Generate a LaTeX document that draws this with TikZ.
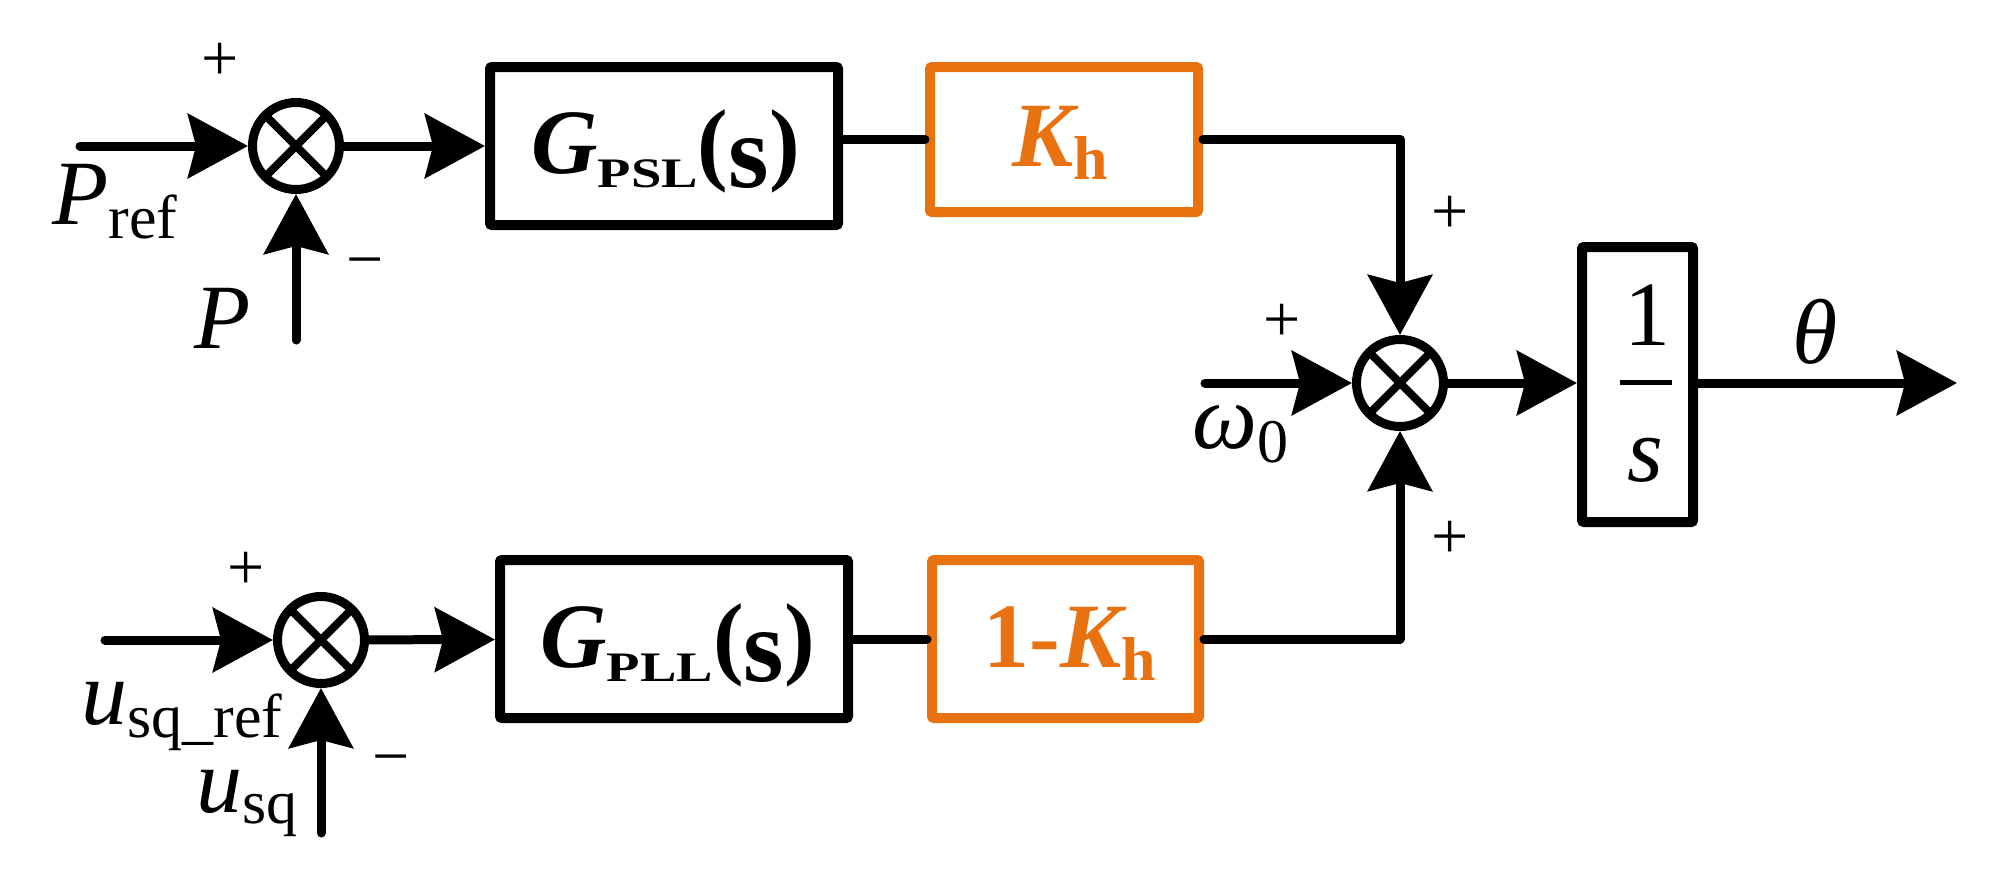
\documentclass[tikz,border=0pt]{standalone}
\usepackage{fontspec}
\usepackage{graphicx}
\setmainfont{Liberation Serif}
\usetikzlibrary{arrows.meta}
\definecolor{kor}{HTML}{E97210}
\newcommand\mainsz{\fontsize{46}{50}\selectfont}
\newcommand\subsz{\fontsize{31}{34}\selectfont}
\newcommand\sgnsz{\fontsize{33}{35}\selectfont}
\newcommand\lsub[2][7pt]{\raisebox{-#1}{\subsz\upshape\mdseries #2}}
\newcommand\bsub[2][6.5pt]{\raisebox{-#1}{\subsz\upshape\bfseries #2}}
\newcommand\Glab[1]{{\bfseries\itshape G}\raisebox{-7pt}{\fontsize{21}{23}\selectfont\bfseries\scalebox{1.3}[1]{#1}}{\bfseries(\raisebox{-7pt}{\fontsize{52}{54}\selectfont s})}}
\begin{document}
\begin{tikzpicture}[x=0.5pt,y=-0.5pt,
  every node/.style={inner sep=0pt, font=\mainsz},
  wire/.style={line width=4.5pt, line cap=round, line join=round},
  arr/.style={wire, -{Stealth[length=30pt,width=32pt,inset=4pt]}},
  blk/.style={draw, line width=5pt, rounded corners=1pt, inner sep=0pt},
  oblk/.style={blk, draw=kor},
  sgn/.style={font=\sgnsz},
  summer/.style={draw, circle, line width=4.5pt, minimum size=43.5pt, inner sep=0pt,
    path picture={\draw[line width=4pt]
      (path picture bounding box.north west) -- (path picture bounding box.south east)
      (path picture bounding box.north east) -- (path picture bounding box.south west);}}]
\useasboundingbox (0,0) rectangle (1990,873);

% summing junctions
\node[summer] (s1) at (296,146) {};
\node[summer] (s2) at (321,640) {};
\node[summer] (s3) at (1400,383) {};

% blocks
\node[blk, minimum width=174pt, minimum height=79pt] (GPSL) at (664,146) {};
\node[oblk, minimum width=134pt, minimum height=72.5pt] (KH) at (1064,139.5) {};
\node[blk, minimum width=174pt, minimum height=79pt] (GPLL) at (674,639) {};
\node[oblk, minimum width=133.5pt, minimum height=79pt] (oneKH) at (1065.5,639) {};
\node[blk, minimum width=55.5pt, minimum height=137.5pt] (I) at (1637.5,384.5) {};

% free ends
\coordinate (pin) at (80,146);
\coordinate (pfb) at (296,340);
\coordinate (uin) at (105,640);
\coordinate (ufb) at (321,833);
\coordinate (win) at (1205,383);
\coordinate (thout) at (1957,383);

% connectors
\draw[arr] (pin) -- (s1);
\draw[arr] (pfb) -- (s1);
\draw[arr] (s1) -- (GPSL);
\draw[wire] (GPSL.east |- KH.west) -- (KH.west);
\draw[arr] (KH.east) -| (s3);
\draw[arr] (uin) -- (s2);
\draw[arr] (ufb) -- (s2);
\draw[arr] (s2) -- (GPLL);
\draw[wire] (GPLL) -- (oneKH);
\draw[arr] (oneKH.east) -| (s3);
\draw[arr] (win) -- (s3);
\draw[arr] (s3.east) -- (s3.east -| I.west);
\draw[arr] (I.east |- s3.east) -- (thout);

% block texts
\node[anchor=base west] (tGPSL) at (531,173) {\Glab{PSL}};
\node[anchor=base west, text=kor] (tKH) at (1012,166) {{\bfseries\itshape K}\bsub{h}};
\node[anchor=base west] (tGPLL) at (540,667) {\Glab{PLL}};
\node[anchor=base west, text=kor] (toneKH) at (983,667) {{\bfseries 1-}{\bfseries\itshape K}\bsub{h}};
\node (tone) at (1647,315) {1};
\draw[line width=2.5pt] (1620,382) -- (1672,382);
\node (ts) at (1645,460) {\itshape s};

% signal labels
\node[anchor=base west] (tPref) at (52,224) {{\itshape P}\lsub{ref}};
\node[anchor=base west] (tP) at (194,348) {\itshape P};
\node[anchor=base west] (turef) at (81,724) {{\itshape u}\lsub[6.5pt]{sq\_ref}};
\node[anchor=base west] (tusq) at (196,812) {{\itshape u}\lsub[5.5pt]{sq}};
\node[anchor=base west] (tw) at (1192,448) {{\itshape ω}\lsub{0}};
\node (tth) at (1815,332) {\itshape θ};

% signs
\node[sgn] (p1) at (220,62) {+};
\node[sgn] (m1) at (365,270) {−};
\node[sgn] (p2) at (246,571) {+};
\node[sgn] (m2) at (391,767) {−};
\node[sgn] (p3) at (1282,323) {+};
\node[sgn] (p4) at (1450,215) {+};
\node[sgn] (p5) at (1450,540) {+};
\end{tikzpicture}
\end{document}
